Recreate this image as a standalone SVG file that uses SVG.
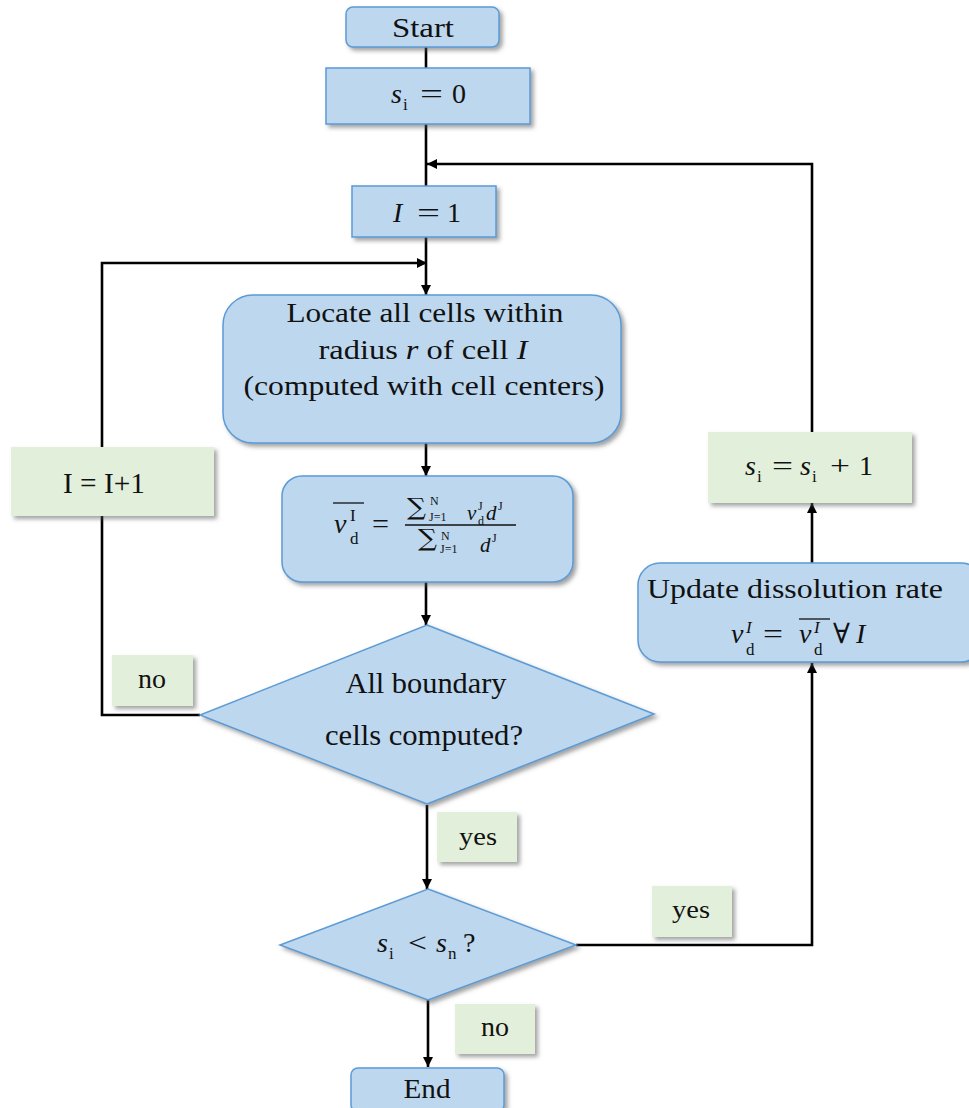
<svg xmlns="http://www.w3.org/2000/svg" width="969" height="1108" viewBox="0 0 969 1108">
<defs>
<filter id="sh" x="-10%" y="-10%" width="130%" height="130%">
<feDropShadow dx="3" dy="3" stdDeviation="2" flood-color="#555" flood-opacity="0.55"/>
</filter>
<marker id="ah" viewBox="0 0 10 10" refX="10" refY="5" markerWidth="4" markerHeight="4" orient="auto" markerUnits="strokeWidth">
<path d="M0,0 L10,5 L0,10 z" fill="#000"/>
</marker>
</defs>
<style>
.b{fill:#BDD7EE;stroke:#5B9BD5;stroke-width:1.5;filter:url(#sh)}
.g{fill:#E2EFDA;stroke:none;filter:url(#sh)}
.c{fill:none;stroke:#000;stroke-width:2.6}
.a{marker-end:url(#ah)}
text{font-family:"Liberation Serif","DejaVu Serif",serif;fill:#111}
.t{font-size:28px;text-anchor:middle}
.tt{font-size:30px;text-anchor:middle}
.m{font-size:28px}
.i{font-style:italic}
.s{font-size:17px}
.xs{font-size:12px}
.f{font-size:21px}
.sig{font-family:"DejaVu Serif",serif;font-size:24px}
.ov{stroke:#111;stroke-width:1.3}
</style>
<rect width="969" height="1108" fill="#fff"/>
<g id="connectors">
<path class="c" d="M426,47 V68"/>
<path class="c" d="M426,124 V186"/>
<path class="c a" d="M426,237 V295"/>
<path class="c a" d="M102,447 V263 H427"/>
<path class="c a" d="M426,443 V476"/>
<path class="c a" d="M426,582 V625"/>
<path class="c" d="M200,715 H102 V516"/>
<path class="c a" d="M427,805 V889"/>
<path class="c a" d="M428,1000 V1067"/>
<path class="c a" d="M576,945 H812 V663"/>
<path class="c a" d="M812,563 V503"/>
<path class="c a" d="M812,432 V164 H427"/>
</g>
<g id="start">
<rect class="b" x="346" y="7" width="153" height="40" rx="7"/>
<text class="t" x="423" y="37" textLength="62" lengthAdjust="spacingAndGlyphs">Start</text>
</g>
<g id="si0">
<rect class="b" x="326" y="68" width="204" height="56"/>
<text class="m" y="103"><tspan class="i" x="391">s</tspan><tspan class="s" x="403" y="110">i</tspan><tspan x="420" y="103" textLength="23" lengthAdjust="spacingAndGlyphs">=</tspan><tspan x="452">0</tspan></text>
</g>
<g id="I1">
<rect class="b" x="352" y="186" width="144" height="51"/>
<text class="m" y="222"><tspan class="i" x="393">I</tspan><tspan x="417" textLength="23" lengthAdjust="spacingAndGlyphs">=</tspan><tspan x="447">1</tspan></text>
</g>
<g id="locate">
<rect class="b" x="223" y="295" width="398" height="148" rx="30"/>
<text class="t" x="425" y="322" textLength="277" lengthAdjust="spacingAndGlyphs">Locate all cells within</text>
<text class="t" x="423" y="359" textLength="209" lengthAdjust="spacingAndGlyphs"><tspan>radius </tspan><tspan class="i">r</tspan><tspan> of cell </tspan><tspan class="i">I</tspan></text>
<text class="t" x="424" y="395" textLength="361" lengthAdjust="spacingAndGlyphs">(computed with cell centers)</text>
</g>
<g id="avg">
<rect class="b" x="282" y="476" width="291" height="106" rx="20"/>
<line class="ov" x1="333" y1="503" x2="364" y2="503"/>
<text class="m" y="533"><tspan class="i" x="334">v</tspan><tspan class="s" x="350" y="521">I</tspan><tspan class="s" x="350" y="544">d</tspan><tspan x="372" y="533" textLength="17" lengthAdjust="spacingAndGlyphs">=</tspan></text>
<line class="ov" x1="405" y1="525" x2="516" y2="525"/>
<text y="515"><tspan class="sig" x="407" textLength="19" lengthAdjust="spacingAndGlyphs">∑</tspan><tspan class="xs" x="430" y="505">N</tspan><tspan class="xs" x="429" y="521">J=1</tspan><tspan class="i f" x="467" y="520">v</tspan><tspan class="xs" x="478" y="510">J</tspan><tspan class="xs" x="478" y="525">d</tspan><tspan class="i f" x="486" y="520">d</tspan><tspan class="xs" x="498" y="510">J</tspan></text>
<text y="546"><tspan class="sig" x="418" textLength="19" lengthAdjust="spacingAndGlyphs">∑</tspan><tspan class="xs" x="441" y="540">N</tspan><tspan class="xs" x="440" y="553">J=1</tspan><tspan class="i f" x="480" y="552">d</tspan><tspan class="xs" x="492" y="542">J</tspan></text>
</g>
<g id="dec1">
<polygon class="b" points="427,625 654,714 427,804 200,715"/>
<text class="tt" x="426" y="693" textLength="161" lengthAdjust="spacingAndGlyphs">All boundary</text>
<text class="tt" x="424" y="745" textLength="198" lengthAdjust="spacingAndGlyphs">cells computed?</text>
</g>
<g id="IpI">
<rect class="g" x="11" y="447" width="203" height="69"/>
<text class="tt" x="104" y="493" textLength="82" lengthAdjust="spacingAndGlyphs">I = I+1</text>
</g>
<g id="no1">
<rect class="g" x="112" y="655" width="81" height="51"/>
<text class="t" x="152" y="688" style="font-size:28px">no</text>
</g>
<g id="yes1">
<rect class="g" x="437" y="812" width="80" height="50"/>
<text class="t" x="478" y="845" style="font-size:26px" textLength="38" lengthAdjust="spacingAndGlyphs">yes</text>
</g>
<g id="dec2">
<polygon class="b" points="428,889 576,945 428,1000 280,945"/>
<text class="m" y="952"><tspan class="i" x="377">s</tspan><tspan class="s" x="389" y="959">i</tspan><tspan x="408" y="952" textLength="19" lengthAdjust="spacingAndGlyphs">&lt;</tspan><tspan class="i" x="436">s</tspan><tspan class="s" x="448" y="959">n</tspan><tspan x="463" y="952">?</tspan></text>
</g>
<g id="no2">
<rect class="g" x="455" y="1004" width="80" height="50"/>
<text class="t" x="495" y="1036" style="font-size:28px">no</text>
</g>
<g id="yes2">
<rect class="g" x="652" y="886" width="80" height="51"/>
<text class="t" x="691" y="918" style="font-size:26px" textLength="38" lengthAdjust="spacingAndGlyphs">yes</text>
</g>
<g id="end">
<rect class="b" x="351" y="1068" width="153" height="44" rx="7"/>
<text class="t" x="427" y="1098" textLength="47" lengthAdjust="spacingAndGlyphs">End</text>
</g>
<g id="update">
<rect class="b" x="638" y="563" width="345" height="99" rx="22"/>
<text class="t" x="795" y="598" textLength="296" lengthAdjust="spacingAndGlyphs">Update dissolution rate</text>
<line class="ov" x1="799" y1="619" x2="830" y2="619"/>
<text class="m" y="643"><tspan class="i" x="731">v</tspan><tspan class="s i" x="746" y="633">I</tspan><tspan class="s" x="746" y="655">d</tspan><tspan x="763" y="643" textLength="20" lengthAdjust="spacingAndGlyphs">=</tspan><tspan class="i" x="799">v</tspan><tspan class="s i" x="814" y="633">I</tspan><tspan class="s" x="814" y="655">d</tspan><tspan x="833" y="643">∀</tspan><tspan class="i" x="856">I</tspan></text>
</g>
<g id="siinc">
<rect class="g" x="708" y="432" width="204" height="71"/>
<text class="m" y="475"><tspan class="i" x="745">s</tspan><tspan class="s" x="757" y="482">i</tspan><tspan x="772" y="475" textLength="21" lengthAdjust="spacingAndGlyphs">=</tspan><tspan class="i" x="800">s</tspan><tspan class="s" x="812" y="482">i</tspan><tspan x="830" y="475" textLength="20" lengthAdjust="spacingAndGlyphs">+</tspan><tspan x="859">1</tspan></text>
</g>
</svg>
